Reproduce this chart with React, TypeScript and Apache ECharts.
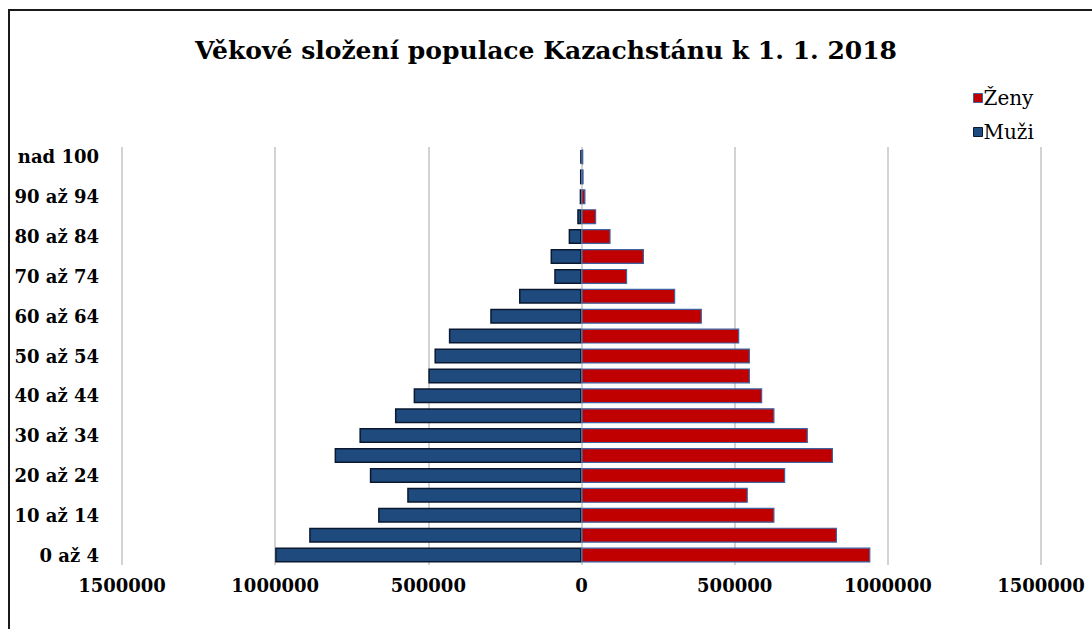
import React, { useEffect, useRef } from "react";
import * as echarts from "echarts";

const titleText = "Věkové složení populace Kazachstánu k 1. 1. 2018";

const categories = [
  "0 až 4", "5 až 9", "10 až 14", "15 až 19", "20 až 24", "25 až 29", "30 až 34",
  "35 až 39", "40 až 44", "45 až 49", "50 až 54", "55 až 59", "60 až 64", "65 až 69",
  "70 až 74", "75 až 79", "80 až 84", "85 až 89", "90 až 94", "95 až 99", "nad 100",
];

const muzi = [
  1000000, 889000, 664000, 569000, 691000, 806000, 725000,
  609000, 548000, 500000, 480000, 433000, 298000, 204000,
  89000, 101000, 42000, 14000, 6000, 5000, 4000,
];

const zeny = [
  943000, 834000, 630000, 543000, 665000, 821000, 739000,
  630000, 590000, 550000, 550000, 515000, 393000, 306000,
  149000, 204000, 95000, 48000, 13000, 7000, 6000,
];

const axisMin = -1500000;
const axisMax = 1500000;
const axisStep = 500000;

export default function App() {
  const ref = useRef<HTMLDivElement>(null);

  useEffect(() => {
    if (!ref.current) return;
    const chart = echarts.init(ref.current, null, { renderer: "svg" });
    const serif = "'DejaVu Serif', 'Liberation Serif', serif";
    chart.setOption({
      animation: false,
      backgroundColor: "#ffffff",
      title: {
        text: titleText,
        left: "center",
        top: 33,
        textStyle: {
          fontFamily: serif,
          fontWeight: "bold",
          fontSize: 25,
          color: "#000000",
        },
      },
      legend: {
        orient: "vertical",
        left: 968,
        top: 83,
        itemWidth: 9,
        itemHeight: 9,
        itemGap: 14,
        icon: "rect",
        itemStyle: { borderWidth: 1 },
        data: ["Ženy", "Muži"],
        textStyle: {
          fontFamily: serif,
          fontSize: 20,
          color: "#000000",
          padding: [0, 0, 0, -4],
        },
      },
      grid: {
        left: 122,
        right: 51,
        top: 147,
        bottom: 64,
        containLabel: false,
      },
      xAxis: {
        type: "value",
        min: axisMin,
        max: axisMax,
        interval: axisStep,
        axisLine: { show: false },
        axisTick: { show: false },
        splitLine: { show: true, lineStyle: { color: "#c4c4c4", width: 1.5 } },
        axisLabel: {
          margin: 11,
          fontFamily: serif,
          fontWeight: "bold",
          fontSize: 18,
          color: "#000000",
          formatter: (v: number) => String(Math.abs(v)),
        },
      },
      yAxis: {
        type: "category",
        data: categories,
        axisLine: { show: false },
        axisTick: { show: false },
        axisLabel: {
          interval: 1,
          margin: 23,
          fontFamily: serif,
          fontWeight: "bold",
          fontSize: 18,
          color: "#000000",
        },
      },
      series: [
        {
          name: "Muži",
          type: "bar",
          stack: "pop",
          barWidth: 15,
          data: muzi.map((v) => -v),
          itemStyle: { color: "#1f4a7e", borderColor: "#0a1830", borderWidth: 1.5 },
        },
        {
          name: "Ženy",
          type: "bar",
          stack: "pop",
          barWidth: 15,
          data: zeny,
          itemStyle: { color: "#c00000", borderColor: "#3f62a0", borderWidth: 1.2 },
        },
      ],
      graphic: [
        {
          type: "line",
          shape: { x1: 8, y1: 10, x2: 1092, y2: 10 },
          style: { stroke: "#1a1a1a", lineWidth: 2 },
        },
        {
          type: "line",
          shape: { x1: 9, y1: 9, x2: 9, y2: 629 },
          style: { stroke: "#1a1a1a", lineWidth: 2 },
        },
      ],
    });
    return () => chart.dispose();
  }, []);

  return (
    <div
      ref={ref}
      style={{ position: "absolute", left: 0, top: 0, width: 1092, height: 629 }}
    />
  );
}
